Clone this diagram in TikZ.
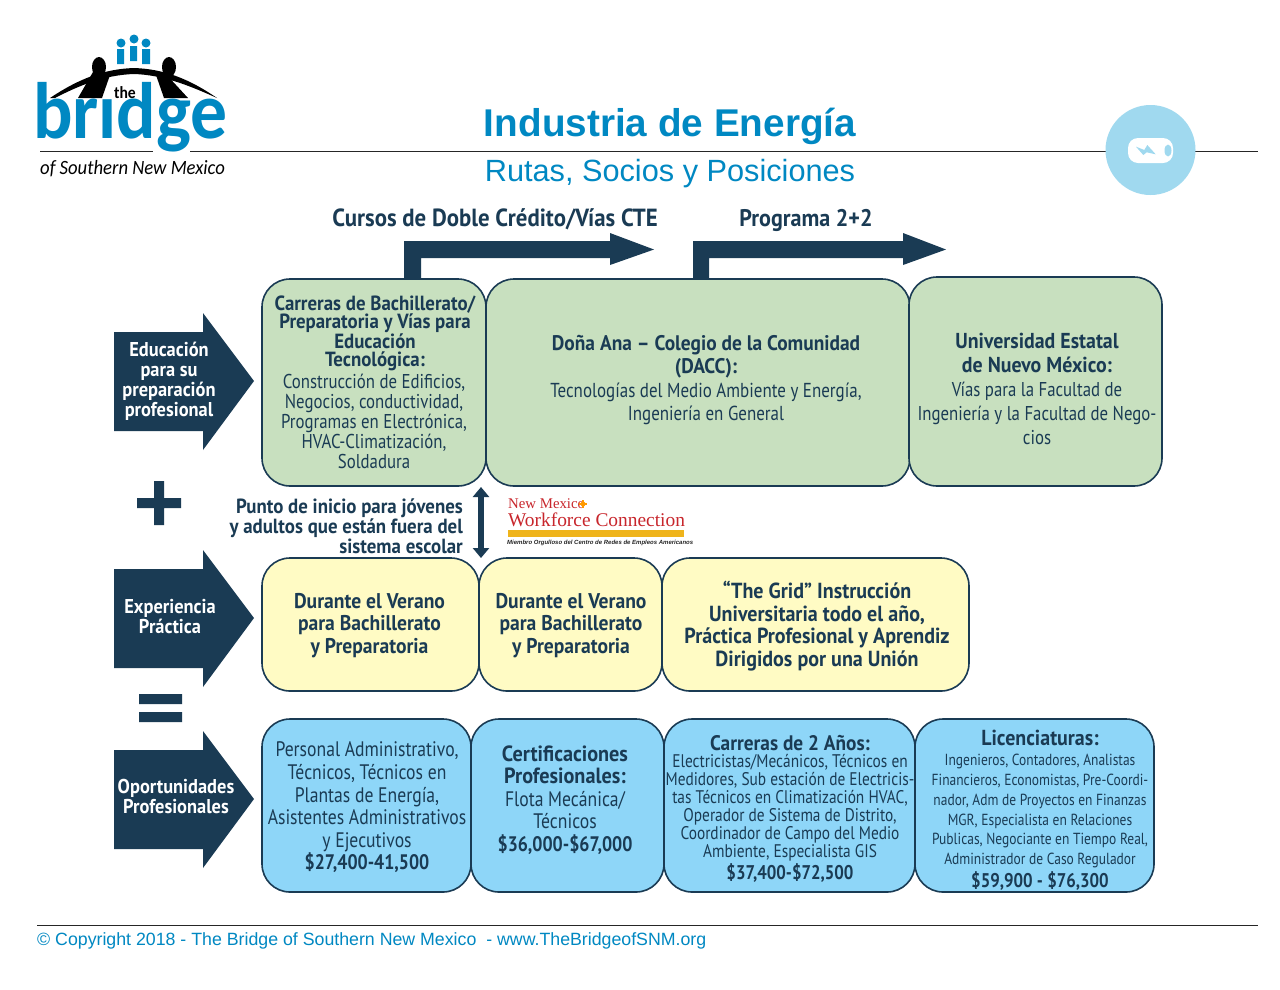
\documentclass[tikz,border=0pt]{standalone}
\usepackage{fontspec}
\usetikzlibrary{arrows.meta}
\setmainfont{Liberation Sans}
\newfontfamily\cnd[FakeStretch=0.84,BoldFeatures={FakeStretch=0.92}]{PT Sans}
\newfontfamily\cndp[FakeStretch=0.84,BoldFeatures={FakeStretch=0.85}]{PT Sans}
\newfontfamily\logofont[FakeStretch=0.92]{Carlito}
\newfontfamily\wfserif{Liberation Serif}
\definecolor{navy}{HTML}{1A3B54}
\definecolor{gfill}{HTML}{C8E0BF}
\definecolor{yfill}{HTML}{FFFBC4}
\definecolor{bfill}{HTML}{8ED6F8}
\definecolor{tblue}{HTML}{0088C2}
\definecolor{cblue}{HTML}{A0D9EF}
\definecolor{wfred}{HTML}{C8262C}
\definecolor{gold}{HTML}{EFB41B}
\newcommand{\fsz}[2]{\fontsize{#1}{#2}\selectfont}
\newcommand{\price}[1]{\cndp\bfseries #1}
\tikzset{
  x=1pt,y=-1pt,
  rbox/.style={draw=navy,line width=1.6pt,rounded corners=28pt,inner sep=0pt},
  gbox/.style={rbox,fill=gfill},
  ybox/.style={rbox,fill=yfill},
  bbox/.style={rbox,fill=bfill},
  txt/.style={align=center,inner sep=0pt,text=navy},
  btxt/.style 2 args={txt,font=\cnd\bfseries\fsz{#1}{#2}},
  rtxt/.style 2 args={txt,font=\cnd\fsz{#1}{#2}},
  shape solid/.style={fill=navy,draw=none},
  rule line/.style={draw=black!85,line width=1pt},
}
\newcommand{\rbx}[6]{\node[#1,minimum width=#5-#3,minimum height=#6-#4] (#2) at ({(#3+#5)/2},{(#4+#6)/2}) {};}
\newcommand{\blockarrow}[1]{\fill[shape solid] (114,#1-49) -- (203,#1-49) -- (203,#1-68) -- (254,#1) -- (203,#1+69) -- (203,#1+50) -- (114,#1+50) -- cycle;}
\begin{document}
\begin{tikzpicture}
\useasboundingbox (0,0) rectangle (1280,989);
\fill[white] (0,0) rectangle (1280,989);
% rules
\draw[rule line] (40,151) -- (153,151);
\draw[rule line] (190,151) -- (1258,151);
\draw[rule line] (37,925) -- (1258,925);
% logo
\fill[tblue] (117,49) rectangle (124,64) (130,46) rectangle (137,61) (142,49) rectangle (150,64);
\fill[tblue] (121,43) circle (4.5) (134,39) circle (4.5) (146,43) circle (4.5);
\node[inner sep=0pt,anchor=base west,text=tblue] (lbridge) at (33,138) {\logofont\bfseries\fsz{80}{84}br\symbol{"0131}dge};
\fill[black] (50,98) .. controls (80,78) and (105,69) .. (134,68) .. controls (163,69) and (188,78) .. (217,98) .. controls (188,85) and (163,75) .. (134,74) .. controls (105,75) and (80,85) .. (55,98) -- cycle;
\fill[black] (93,72) -- (78,98) -- (102,98) -- (110,75) -- cycle;
\fill[black] (164,72) -- (188,98) -- (164,98) -- (156,75) -- cycle;
\fill[black] (99,67) ellipse (7 and 10) (169,67) ellipse (7 and 10);
\node[inner sep=0pt,anchor=base] (lthe) at (125,98) {\logofont\bfseries\fsz{17}{17}the};
\node[inner sep=0pt,anchor=base west,text=black] (lof) at (40,174) {\logofont\itshape\fsz{20.3}{21}of Southern New Mexico};
% title
\node[inner sep=0pt,text=tblue] (title) at (670,126) {\bfseries\fsz{38.7}{38}Industria de Energía};
\node[inner sep=0pt,text=tblue] (subtitle) at (670,174) {\fsz{30.7}{31}Rutas, Socios y Posiciones};
% battery icon
\fill[cblue] (1150.5,150) circle (45);
\fill[white,rounded corners=10pt] (1128,138) rectangle (1173,163);
\fill[cblue] (1168,150.5) ellipse (3.5 and 6);
\fill[cblue] (1136,146.7) -- (1144.3,150) -- (1147.3,145) -- (1155.7,154.3) -- (1146.7,152.3) -- (1143.3,155) -- cycle;
% top arrows
\node[btxt={24.8}{24},anchor=base] (t1) at (495,226) {Cursos de Doble Crédito/Vías CTE};
\node[btxt={24}{24},anchor=base] (t2) at (806,226) {Programa 2+2};
\fill[shape solid] (404,280) -- (404,241) -- (610,241) -- (610,233) -- (654,249.5) -- (610,265) -- (610,258) -- (421,258) -- (421,280) -- cycle;
\fill[shape solid] (693,280) -- (693,241) -- (903,241) -- (903,233) -- (946,249.5) -- (903,265) -- (903,258) -- (709,258) -- (709,280) -- cycle;
% green boxes
\rbx{gbox}{g2}{486}{279}{910}{486}
\rbx{gbox}{g1}{262}{279}{486}{486}
\rbx{gbox}{g3}{909}{277}{1162}{486}
% yellow
\rbx{ybox}{y3}{662}{558}{969}{691}
\rbx{ybox}{y2}{479}{558}{662}{691}
\rbx{ybox}{y1}{262}{558}{479}{691}
% blue
\rbx{bbox}{b4}{915}{719}{1154}{892}
\rbx{bbox}{b3}{664}{719}{915}{892}
\rbx{bbox}{b2}{471}{719}{664}{892}
\rbx{bbox}{b1}{262}{719}{471}{892}
% side arrows
\blockarrow{381}
\blockarrow{618}
\blockarrow{799}
\node[btxt={20}{20},text=white] (at1) at (169,381) {Educación\\para su\\preparación\\profesional};
\node[btxt={20}{20},text=white] (at2) at (170,617) {Experiencia\\Práctica};
\node[btxt={20}{20},text=white] (at3) at (176,796) {Oportunidades\\Profesionales};
% plus / equals
\fill[shape solid] (137,498) rectangle (181,508) (154,481) rectangle (164,525);
\fill[shape solid] (139,694) rectangle (182,704) (139,712) rectangle (182,722);
% green text
\node[btxt={20.5}{18},anchor=north] (tg1) at (375,296) {Carreras de Bachillerato/\\Preparatoria y Vías para\\Educación\\Tecnológica:};
\node[rtxt={20}{20},anchor=north] (tg1b) at (374,374) {Construcción de Edificios,\\Negocios, conductividad,\\Programas en Electrónica,\\HVAC-Climatización,\\Soldadura};
\node[btxt={21.1}{23.5}] (tg2) at (706,380) {Doña Ana – Colegio de la Comunidad\\(DACC):\\\mdseries\fsz{20.2}{23.5}Tecnologías del Medio Ambiente y Energía,\\\mdseries\fsz{20.2}{23.5}Ingeniería en General};
\node[btxt={21.6}{24}] (tg3) at (1037,388.5) {Universidad Estatal\\de Nuevo México:\\\mdseries\fsz{20}{24}Vías para la Facultad de\\\mdseries\fsz{20}{24}Ingeniería y la Facultad de Nego-\\\mdseries\fsz{20}{24}cios};
% middle
\node[btxt={20.5}{17.6},align=right,anchor=north east] (tm) at (463,499) {Punto de inicio para jóvenes\\y adultos que están fuera del\\sistema escolar};
\draw[navy,line width=6pt,{Triangle[width=16pt,length=10pt]}-{Triangle[width=16pt,length=10pt]}] (481,487) -- (481,558);
% WF logo
\node[inner sep=0pt,anchor=base west,text=wfred] (wf1) at (508,508) {\wfserif\fsz{14.8}{15}New Mexico};
\node[inner sep=0pt,anchor=base west,text=wfred] (wf2) at (508,526) {\wfserif\fsz{19.4}{20.5}Workforce Connection};
\fill[gold] (508,530) rectangle (684,537);
\draw[orange!80!yellow,line width=1.2pt] (579,504) -- (587,504) (583,500) -- (583,508);
\draw[orange!80!yellow,line width=.8pt] (583,504) circle (2);
\node[inner sep=0pt,anchor=base west,text=black!85] (wf3) at (507,544.5) {\bfseries\itshape\fsz{6}{6}Miembro Orgulloso del Centro de Redes de Empleos Americanos};
% yellow text
\node[btxt={21.3}{22.7}] (ty1) at (369.5,625.5) {Durante el Verano\\para Bachillerato\\y Preparatoria};
\node[btxt={21.3}{22.7}] (ty2) at (571,625.5) {Durante el Verano\\para Bachillerato\\y Preparatoria};
\node[btxt={21.8}{22.8}] (ty3) at (817,626) {“The Grid” Instrucción\\Universitaria todo el año,\\Práctica Profesional y Aprendiz\\Dirigidos por una Unión};
% blue text
\node[rtxt={21}{22.6}] (tb1) at (367,807.5) {Personal Administrativo,\\Técnicos, Técnicos en\\Plantas de Energía,\\Asistentes Administrativos\\y Ejecutivos\\\price{\$27,400-41,500}};
\node[btxt={22}{22.6}] (tb2) at (565,800) {Certificaciones\\Profesionales:\\\mdseries\fsz{21}{22.6}Flota Mecánica/\\\mdseries\fsz{21}{22.6}Técnicos\\\price{\fsz{21}{22.6}\$36,000-\$67,000}};
\node[btxt={21}{21}] (tb3h) at (790,743) {Carreras de 2 Años:};
\node[rtxt={18.3}{18.1},anchor=north] (tb3) at (790,754) {Electricistas/Mecánicos, Técnicos en\\Medidores, Sub estación de Electricis-\\tas Técnicos en Climatización HVAC,\\Operador de Sistema de Distrito,\\Coordinador de Campo del Medio\\Ambiente, Especialista GIS};
\node[txt,font=\fsz{19.8}{21}] (tb3p) at (790,873) {\price{\$37,400-\$72,500}};
\node[btxt={21.7}{21}] (tb4h) at (1040,738) {Licenciaturas:};
\node[rtxt={16.05}{19.8},anchor=north] (tb4) at (1040,754) {Ingenieros, Contadores, Analistas\\Financieros, Economistas, Pre-Coordi-\\nador, Adm de Proyectos en Finanzas\\MGR, Especialista en Relaciones\\Publicas, Negociante en Tiempo Real,\\Administrador de Caso Regulador};
\node[txt,font=\fsz{19.8}{21}] (tb4p) at (1040,881) {\price{\$59,900 - \$76,300}};
% footer
\node[inner sep=0pt,anchor=base west,text=tblue] (foot) at (37,945) {\fsz{17.75}{17}© Copyright 2018 - The Bridge of Southern New Mexico\ \ - www.TheBridgeofSNM.org};
\end{tikzpicture}
\end{document}
